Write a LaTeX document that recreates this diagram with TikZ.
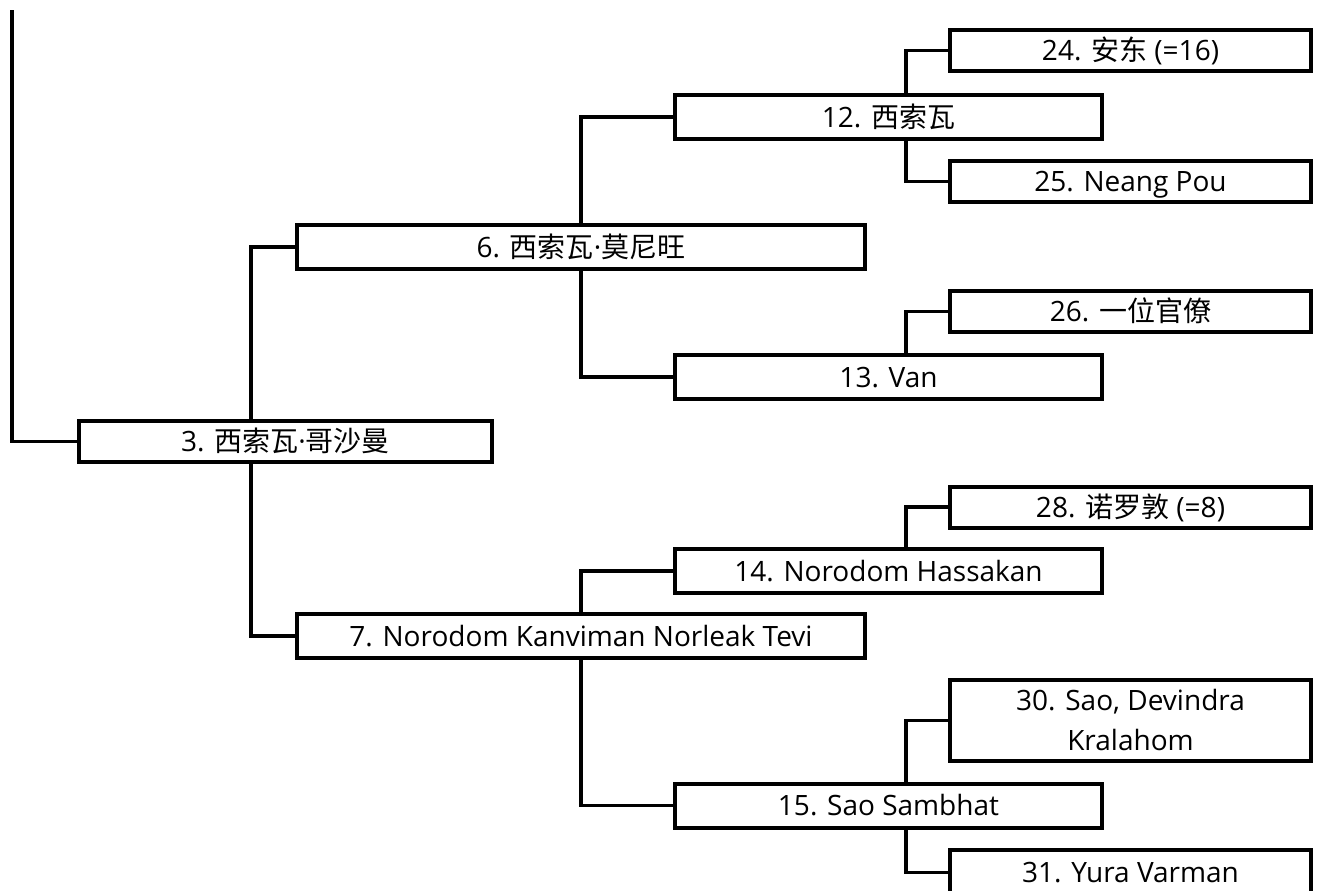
\documentclass[tikz,border=0pt]{standalone}
\usepackage{fontspec}
\setmainfont{Open Sans}
\newfontfamily\cjk{Noto Sans CJK SC}
\begin{document}
\begin{tikzpicture}[x=0.75pt,y=-0.75pt,
  box/.style={draw=black,fill=white,line width=3pt,rectangle,inner sep=0pt,
    font=\fontsize{21pt}{30pt}\selectfont,text height=15pt,text depth=0pt,align=center},
  rbox/.style={box,minimum width=270.75pt,minimum height=30.75pt},
  mbox/.style={box,minimum width=320.25pt,minimum height=33pt},
  wbox/.style={box,minimum width=426pt,minimum height=33pt},
  link/.style={draw=black,line width=2.5pt}]
\useasboundingbox (0,0) rectangle (1321,890);
\clip (0,0) rectangle (1321,890);
% nodes
\node[rbox] (n24) at (1130.5,50.5) {24. {\cjk 安东} (=16)};
\node[mbox] (n12) at (888.5,117) {12. {\cjk 西索瓦}};
\node[rbox] (n25) at (1130.5,181.5) {25. Neang Pou};
\node[wbox] (n6) at (581,247) {6. {\cjk 西索瓦}·{\cjk 莫尼旺}};
\node[rbox] (n26) at (1130.5,311.5) {26. {\cjk 一位官僚}};
\node[mbox] (n13) at (888.5,377) {13. Van};
\node[box,minimum width=309.75pt,minimum height=30.75pt] (n3) at (285.5,441.5) {3. {\cjk 西索瓦}·{\cjk 哥沙曼}};
\node[rbox] (n28) at (1130.5,507) {28. {\cjk 诺罗敦} (=8)};
\node[mbox] (n14) at (888.5,571) {14. Norodom Hassakan};
\node[wbox] (n7) at (581,636) {7. Norodom Kanviman Norleak Tevi};
\node[rbox,minimum height=60.75pt,text height=45.5pt] (n30) at (1130.5,720.5) {30. Sao, Devindra\\Kralahom};
\node[mbox] (n15) at (888.5,805.5) {15. Sao Sambhat};
\node[rbox,minimum height=33.75pt] (n31) at (1130.5,872.5) {31. Yura Varman};
% connector columns
\coordinate (top) at (12,10);
\coordinate (c1) at (251,0);
\coordinate (c3) at (906,0);
% connectors
\draw[link] (n3.west) -| (top);
\draw[link] (c1 |- n3.north) |- (n6.west);
\draw[link] (c1 |- n3.south) |- (n7.west);
\draw[link] (n6.north) |- (n12.west);
\draw[link] (n6.south) |- (n13.west);
\draw[link] (n7.north) |- (n14.west);
\draw[link] (n7.south) |- (n15.west);
\draw[link] (c3 |- n12.north) |- (n24.west);
\draw[link] (c3 |- n12.south) |- (n25.west);
\draw[link] (c3 |- n13.north) |- (n26.west);
\draw[link] (c3 |- n14.north) |- (n28.west);
\draw[link] (c3 |- n15.north) |- (n30.west);
\draw[link] (c3 |- n15.south) |- (n31.west);
\end{tikzpicture}
\end{document}
